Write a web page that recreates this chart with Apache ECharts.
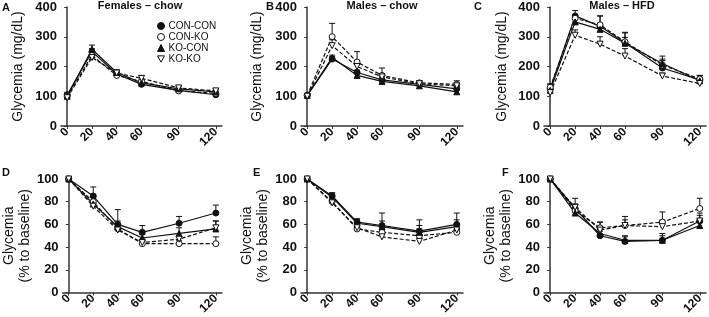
<!DOCTYPE html>
<html>
<head>
<meta charset="utf-8">
<script src="https://cdn.jsdelivr.net/npm/echarts@6/dist/echarts.min.js"></script>
<style>
html, body { margin: 0; padding: 0; background: #fff; }
#chart { width: 709px; height: 317px; }
</style>
</head>
<body>
<div id="chart"></div>
<script>
const times = [0, 20, 40, 60, 90, 120]
const groups = ['CON-CON', 'CON-KO', 'KO-CON', 'KO-KO']
const xTicks = [0, 20, 40, 60, 90, 120]

// A - Females, chow (mg/dL); rows follow groups
const femChow = [
  [105, 250, 175, 140, 120, 105],
  [100, 237, 170, 150, 118, 110],
  [100, 258, 180, 145, 125, 115],
  [95, 230, 178, 160, 128, 118]
]
const femChowErr = [
  [8, 10, 8, 8, 6, 6],
  [6, 10, 8, 8, 6, 6],
  [6, 14, 8, 8, 6, 6],
  [6, 10, 10, 10, 6, 6]
]
// B - Males, chow (mg/dL)
const maleChow = [
  [103, 225, 180, 155, 140, 125],
  [103, 300, 215, 170, 145, 140],
  [103, 230, 170, 150, 135, 115],
  [100, 270, 200, 165, 142, 135]
]
const maleChowErr = [
  [5, 8, 8, 6, 6, 8],
  [5, 45, 35, 25, 8, 12],
  [5, 8, 8, 6, 6, 8],
  [5, 20, 15, 10, 6, 8]
]
// C - Males, HFD (mg/dL)
const maleHfd = [
  [125, 370, 335, 280, 195, 155],
  [130, 362, 340, 283, 205, 158],
  [120, 350, 325, 278, 210, 152],
  [112, 305, 275, 235, 168, 143]
]
const maleHfdErr = [
  [15, 18, 35, 35, 25, 15],
  [12, 10, 30, 30, 20, 12],
  [10, 10, 20, 20, 25, 12],
  [10, 18, 25, 25, 10, 10]
]
// D - Females, chow (% to baseline)
const femChowPct = [
  [100, 85, 60, 53, 61, 70],
  [100, 80, 56, 43, 43, 43],
  [100, 78, 58, 48, 52, 56],
  [100, 76, 55, 44, 47, 57]
]
const femChowPctErr = [
  [0, 8, 13, 6, 6, 7],
  [0, 4, 4, 3, 3, 6],
  [0, 8, 5, 3, 5, 7],
  [0, 4, 4, 3, 3, 6]
]
// E - Males, chow (% to baseline)
const maleChowPct = [
  [100, 85, 62, 59, 54, 60],
  [100, 80, 56, 53, 50, 53],
  [100, 84, 61, 58, 53, 58],
  [100, 79, 57, 49, 45, 55]
]
const maleChowPctErr = [
  [0, 3, 3, 11, 10, 10],
  [0, 3, 3, 5, 6, 5],
  [0, 3, 3, 5, 6, 6],
  [0, 3, 3, 5, 6, 5]
]
// F - Males, HFD (% to baseline)
const maleHfdPct = [
  [100, 74, 50, 45, 46, 63],
  [100, 72, 57, 59, 62, 74],
  [100, 70, 52, 46, 46, 59],
  [100, 75, 55, 59, 58, 63]
]
const maleHfdPctErr = [
  [0, 4, 4, 4, 6, 5],
  [0, 5, 5, 8, 9, 9],
  [0, 4, 4, 4, 4, 5],
  [0, 8, 7, 5, 6, 7]
]

const font = 'Liberation Sans, Arial, sans-serif'
const ink = '#111'

const panels = [
  { vals: femChow, errs: femChowErr, left: 61, top: 7, width: 161, height: 119, max: 400, step: 100, name: 'Glycemia (mg/dL)', gap: 35 },
  { vals: maleChow, errs: maleChowErr, left: 301, top: 7, width: 162, height: 119, max: 400, step: 100, name: 'Glycemia (mg/dL)', gap: 36 },
  { vals: maleHfd, errs: maleHfdErr, left: 544, top: 7, width: 162, height: 119, max: 400, step: 100, name: 'Glycemia (mg/dL)', gap: 34 },
  { vals: femChowPct, errs: femChowPctErr, left: 61, top: 179, width: 161, height: 118, max: 100, step: 20, name: 'Glycemia\n(% to baseline)', gap: 28 },
  { vals: maleChowPct, errs: maleChowPctErr, left: 301, top: 179, width: 162, height: 118, max: 100, step: 20, name: 'Glycemia\n(% to baseline)', gap: 28 },
  { vals: maleHfdPct, errs: maleHfdPctErr, left: 544, top: 179, width: 162, height: 118, max: 100, step: 20, name: 'Glycemia\n(% to baseline)', gap: 28 }
]

const symbols = ['circle', 'circle', 'triangle', 'path://M0,0L10,0L5,9Z']
const fills = [ink, '#fff', ink, '#fff']
const dashed = [false, true, false, true]

function errItem (params, api) {
  const x = api.value(0)
  const y = api.value(1)
  const e = api.value(2)
  const base = api.coord([x, y])
  const top = api.coord([x, y + e])
  const style = { stroke: ink, lineWidth: 1 }
  return {
    type: 'group',
    children: [
      { type: 'line', shape: { x1: base[0], y1: base[1], x2: top[0], y2: top[1] }, style },
      { type: 'line', shape: { x1: top[0] - 3, y1: top[1], x2: top[0] + 3, y2: top[1] }, style }
    ]
  }
}

const grid = []
const xAxis = []
const yAxis = []
const series = []

panels.forEach((p, i) => {
  grid.push({ left: p.left, top: p.top, width: p.width, height: p.height })
  xAxis.push({
    type: 'value',
    gridIndex: i,
    min: -5,
    max: 125,
    splitLine: { show: false },
    axisLine: { lineStyle: { color: '#333', width: 1.5 } },
    axisTick: { show: true, length: 3, customValues: xTicks, lineStyle: { color: '#333' } },
    axisLabel: {
      customValues: xTicks,
      rotate: 45,
      margin: 4,
      color: ink,
      fontSize: 12,
      fontWeight: 'bold',
      fontFamily: font
    }
  })
  yAxis.push({
    type: 'value',
    gridIndex: i,
    min: 0,
    max: p.max,
    interval: p.step,
    name: p.name,
    nameLocation: 'middle',
    nameGap: p.gap,
    nameTextStyle: { fontSize: 14, color: ink, fontFamily: font, lineHeight: 16 },
    splitLine: { show: false },
    axisLine: { show: true, lineStyle: { color: '#333', width: 1.5 } },
    axisTick: { show: true, length: 3, lineStyle: { color: '#333' } },
    axisLabel: { margin: 4, color: ink, fontSize: 13, fontWeight: 'bold', fontFamily: font }
  })
  groups.forEach((g, k) => {
    series.push({
      type: 'custom',
      name: 'err-' + i + '-' + k,
      xAxisIndex: i,
      yAxisIndex: i,
      z: 1,
      renderItem: errItem,
      encode: { x: 0, y: 1 },
      data: times.map((t, j) => [t, p.vals[k][j], p.errs[k][j]])
    })
    series.push({
      type: 'line',
      name: g,
      xAxisIndex: i,
      yAxisIndex: i,
      z: 3,
      symbol: symbols[k],
      symbolSize: 6,
      lineStyle: { color: ink, width: 1.2, type: dashed[k] ? [4, 2] : 'solid' },
      itemStyle: { color: fills[k], borderColor: ink, borderWidth: 1 },
      data: times.map((t, j) => [t, p.vals[k][j]])
    })
  })
})

const letter = (t, x, y) => ({
  type: 'text', x, y,
  style: { text: t, font: 'bold 11px ' + font, fill: ink }
})
const title = (t, x) => ({
  type: 'text', x, y: 0,
  style: { text: t, font: 'bold 11px ' + font, fill: ink, textAlign: 'center' }
})

const chart = echarts.init(document.getElementById('chart'))
chart.setOption({
  animation: false,
  backgroundColor: '#fff',
  grid,
  xAxis,
  yAxis,
  series,
  legend: {
    orient: 'vertical',
    left: 157,
    top: 21,
    itemGap: 1,
    itemWidth: 7,
    itemHeight: 7,
    padding: 0,
    textStyle: { fontSize: 10, color: ink, fontFamily: font, lineHeight: 8, padding: [0, 0, 0, -1] },
    data: groups.map((g, k) => ({
      name: g,
      icon: symbols[k],
      itemStyle: { color: fills[k], borderColor: ink, borderWidth: 1 }
    }))
  },
  graphic: [
    letter('A', 2, 2), letter('B', 266, 1), letter('C', 474, 1),
    letter('D', 2, 167), letter('E', 253, 167), letter('F', 502, 167),
    title('Females – chow', 140), title('Males – chow', 382), title('Males – HFD', 622)
  ]
})
</script>
</body>
</html>
